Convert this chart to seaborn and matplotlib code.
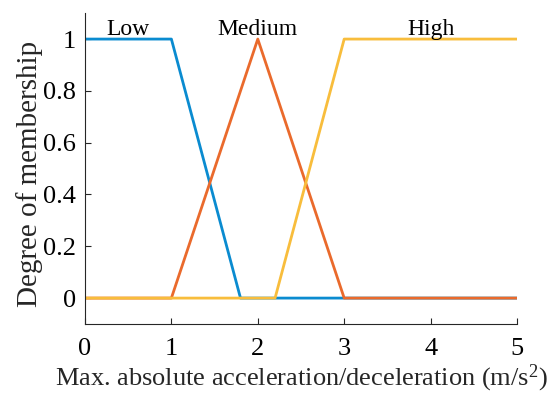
import numpy as np
import pandas as pd
import seaborn as sns
import matplotlib
matplotlib.use("Agg")
import matplotlib.pyplot as plt

x_low = [0, 1, 1.8, 5]
y_low = [1, 1, 0, 0]
x_med = [0, 1, 2, 3, 5]
y_med = [0, 0, 1, 0, 0]
x_high = [0, 2.2, 3, 5]
y_high = [0, 0, 1, 1]
set_names = ["Low", "Medium", "High"]
label_x = [0.5, 2.0, 4.0]
colors = ["#0A8BD0", "#EA6A2C", "#F8BD3C"]

sns.set_theme(style="ticks")
plt.rcParams['font.family'] = ['Liberation Serif', 'DejaVu Serif']
plt.rcParams['mathtext.fontset'] = 'custom'
plt.rcParams['mathtext.rm'] = 'Liberation Serif'
plt.rcParams['mathtext.it'] = 'Liberation Serif:italic'

fig = plt.figure(figsize=(5.5, 3.99), dpi=100)
ax = fig.add_axes([0.1545, 0.188, 0.7855, 0.779])

for xs, ys, c in zip([x_low, x_med, x_high], [y_low, y_med, y_high], colors):
    df = pd.DataFrame({"x": xs, "y": ys})
    sns.lineplot(data=df, x="x", y="y", color=c, linewidth=2, ax=ax, sort=False)

for name, lx in zip(set_names, label_x):
    ax.text(lx, 1.015, name, ha="center", va="baseline", fontsize=17, color="black")

ax.set_xlim(0, 5)
ax.set_ylim(-0.1, 1.1)
ax.set_xticks([0, 1, 2, 3, 4, 5])
ax.set_xticklabels(["0", "1", "2", "3", "4", "5"])
ax.set_yticks([0, 0.2, 0.4, 0.6, 0.8, 1])
ax.set_yticklabels(["0", "0.2", "0.4", "0.6", "0.8", "1"])
ax.tick_params(direction="in", labelsize=19, length=4, width=0.8, colors="#262626", labelcolor="black")
ax.tick_params(axis="x", pad=10)
ax.tick_params(axis="y", pad=6.5)
ax.set_xlabel("Max. absolute acceleration/deceleration (m/s$^\\mathrm{2}$)", fontsize=19, labelpad=2)
ax.set_ylabel("Degree of membership", fontsize=21)
ax.yaxis.set_label_coords(-0.097, 0.482)
for s in ["top", "right"]:
    ax.spines[s].set_visible(False)
for s in ["left", "bottom"]:
    ax.spines[s].set_color("#262626")
    ax.spines[s].set_linewidth(0.8)

fig.savefig("out.png", dpi=100)
